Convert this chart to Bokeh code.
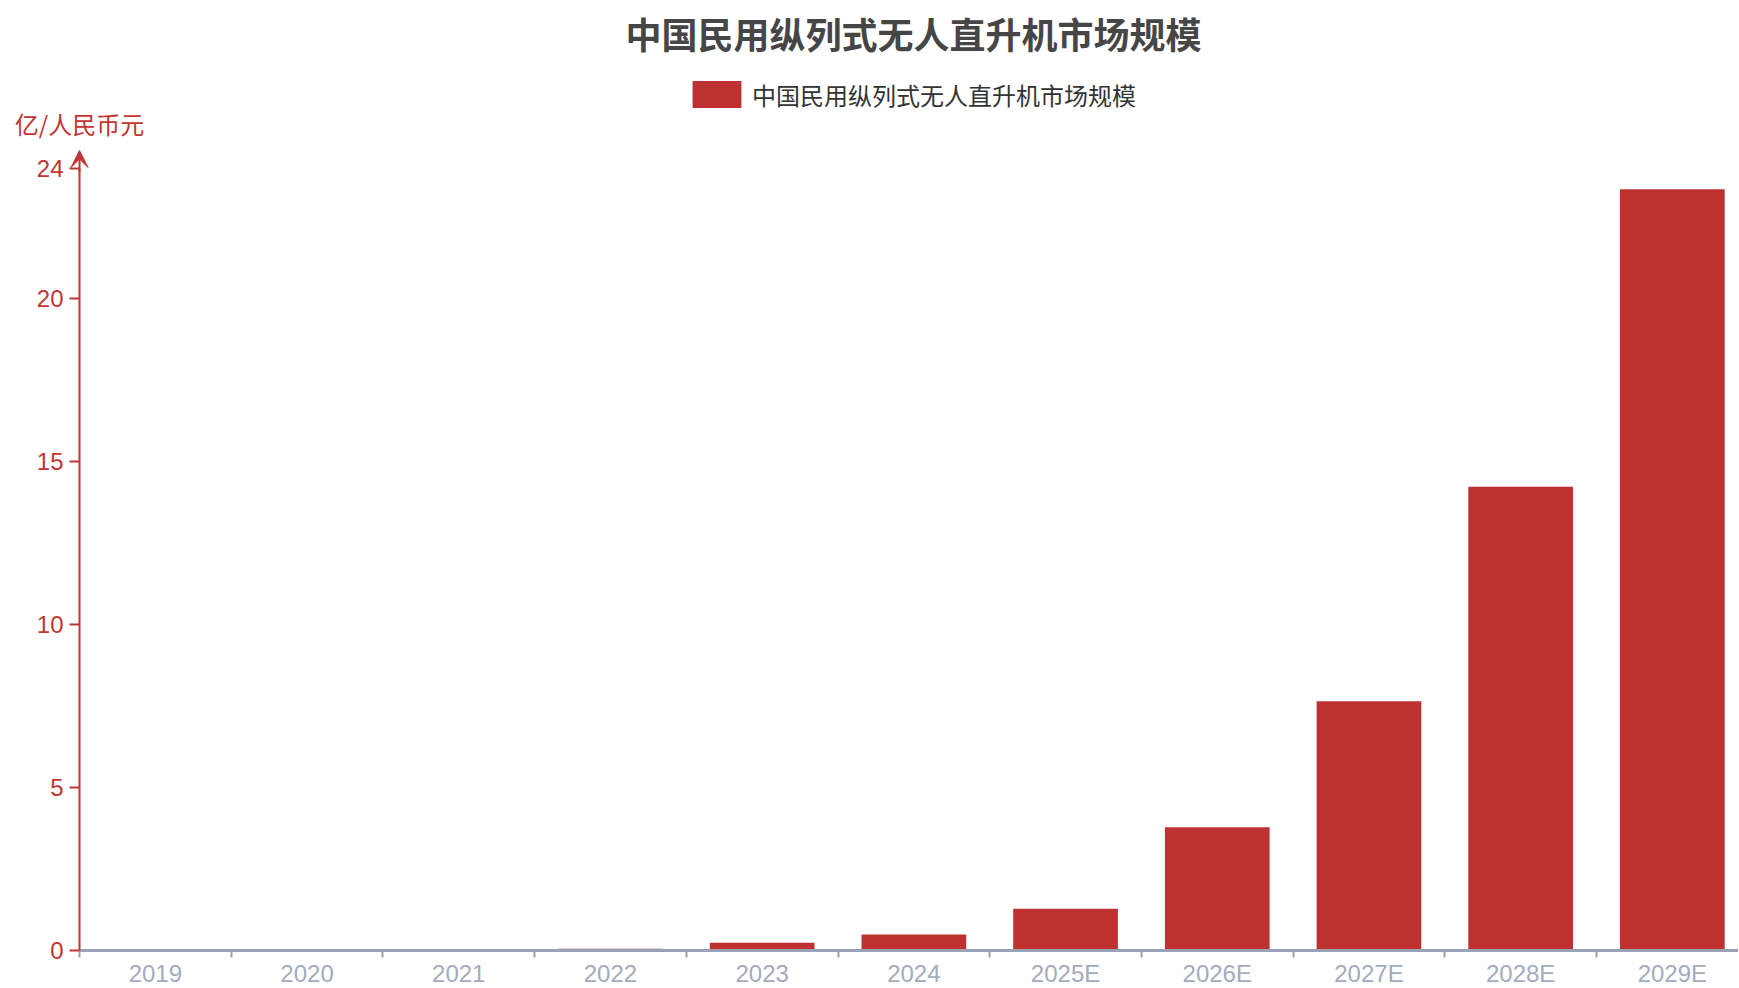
from bokeh.plotting import figure
from bokeh.models import (Range1d, FixedTicker, Arrow, VeeHead, Label, Legend, LegendItem,
                          ColumnDataSource)
from bokeh.embed import file_html
from bokeh.resources import INLINE

# ---- data ----
categories = ["2019", "2020", "2021", "2022", "2023", "2024",
              "2025E", "2026E", "2027E", "2028E", "2029E"]
market_size = [0, 0, 0, 0.05, 0.24, 0.49, 1.28, 3.78, 7.65, 14.23, 23.36]
y_ticks = [0, 5, 10, 15, 20, 24]
series_name = "中国民用纵列式无人直升机市场规模"
title_text = "中国民用纵列式无人直升机市场规模"
y_axis_name = "亿/人民币元"

# ---- styles ----
RED = "#c23531"
BAR = "#bd3230"
AXIS_GRAY = "#9aa3b6"
LABEL_GRAY = "#a3abbd"
CJK = "Noto Sans CJK SC"
LAT = "Liberation Sans"

# ---- layout (pixels) ----
FW, FH = 1738, 987          # frame covers the whole drawing area
AXIS_X = 79                 # pixel x of the value axis
ZERO_Y = 950                # pixel y of the category axis
PX_PER_UNIT_Y = 782 / 24.0  # vertical scale
PX_PER_SLOT = 151.7         # width of one category slot

n = len(categories)


def dx(px):   # pixel x -> data x
    return (px - AXIS_X) / PX_PER_SLOT


def dy(py):   # pixel y (from top) -> data y
    return (ZERO_Y - py) / PX_PER_UNIT_Y


slot_centres = [i + 0.5 for i in range(n)]
slot_edges = list(range(n + 1))

source = ColumnDataSource(dict(x=slot_centres, year=categories, top=market_size))

p = figure(x_range=Range1d(dx(0), dx(FW)), y_range=Range1d(dy(FH), dy(0)),
           frame_width=FW, frame_height=FH, min_border=0,
           toolbar_location=None, output_backend="svg",
           background_fill_color="white", border_fill_color="white",
           outline_line_color=None)

bars = p.vbar(x="x", top="top", width=0.69, source=source,
              fill_color=BAR, line_color=None)

p.grid.grid_line_color = None

# x axis pinned at y = 0: labels at slot centres, ticks at slot boundaries
xaxis = p.xaxis[0]
xaxis.fixed_location = 0
xaxis.bounds = (0, n)
xaxis.ticker = FixedTicker(ticks=slot_centres, minor_ticks=slot_edges)
xaxis.major_label_overrides = {c: lab for c, lab in zip(slot_centres, categories)}
xaxis.axis_line_color = AXIS_GRAY
xaxis.axis_line_width = 3
xaxis.major_tick_line_color = None
xaxis.major_tick_out = 0
xaxis.major_tick_in = 0
xaxis.minor_tick_line_color = AXIS_GRAY
xaxis.minor_tick_line_width = 2
xaxis.minor_tick_out = 7
xaxis.minor_tick_in = 0
xaxis.major_label_text_color = LABEL_GRAY
xaxis.major_label_text_font = LAT
xaxis.major_label_text_font_size = "24px"
xaxis.major_label_standoff = 2

# y axis pinned at x = 0
yaxis = p.yaxis[0]
yaxis.fixed_location = 0
yaxis.bounds = (0, max(y_ticks))
yaxis.ticker = FixedTicker(ticks=y_ticks)
yaxis.axis_line_color = RED
yaxis.axis_line_width = 2
yaxis.major_tick_line_color = RED
yaxis.major_tick_line_width = 2
yaxis.major_tick_out = 10
yaxis.major_tick_in = 0
yaxis.minor_tick_line_color = None
yaxis.major_label_text_color = RED
yaxis.major_label_text_font = LAT
yaxis.major_label_text_font_size = "24px"
yaxis.major_label_standoff = 6

# arrow on top of y axis
p.add_layout(Arrow(end=VeeHead(size=17, fill_color=RED, line_color=RED, line_width=1),
                   x_start=0, y_start=max(y_ticks) - 0.1, x_end=0, y_end=dy(150),
                   line_color=RED, line_width=2))

# y axis name
p.add_layout(Label(x=0, y=dy(123), text=y_axis_name, text_align="center",
                   text_baseline="middle", text_font=CJK, text_font_size="24px",
                   text_color=RED))

# title
p.add_layout(Label(x=dx(913), y=dy(32), text=title_text, text_align="center",
                   text_baseline="middle", text_font=CJK, text_font_size="36px",
                   text_font_style="bold", text_color="#464646"))

# legend (bar swatch is drawn inset by 10% of the glyph box)
legend = Legend(items=[LegendItem(label=series_name, renderers=[bars])],
                location=(686, FH - 111.5), orientation="horizontal",
                padding=0, margin=0, spacing=0,
                glyph_width=61, glyph_height=34, label_height=34, label_standoff=5,
                label_text_font=CJK, label_text_font_size="24px",
                label_text_color="#333333", border_line_color=None,
                background_fill_alpha=0)
p.add_layout(legend, "center")

open("out.html", "w").write(file_html(p, INLINE))
